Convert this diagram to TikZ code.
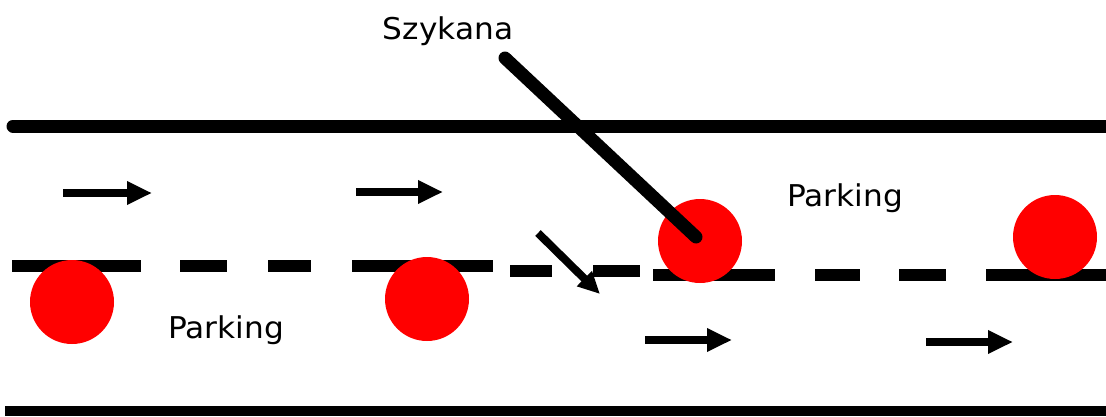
\documentclass[tikz,border=0pt]{standalone}
\usepackage{fontspec}
\setmainfont{DejaVu Sans}
\usetikzlibrary{arrows.meta}
\begin{document}
\begin{tikzpicture}[x=1pt,y=-1pt,
  road/.style={line width=12pt, line cap=butt},
  dashpiece/.style={line width=12pt, line cap=butt},
  car/.style={circle, fill=red, draw=none, minimum size=84pt, inner sep=0pt},
  flow/.style={line width=8pt, -{Triangle[length=25pt,width=22pt]}},
  lbl/.style={font=\fontsize{30}{32}\selectfont, inner sep=0pt, xscale=1.04}]
\useasboundingbox (0,0) rectangle (1106,416);
% road edges
\draw[road, line width=13pt, line cap=round] (13,126) -- (1106,126);
\draw[road, line width=10pt] (5,411) -- (1110,411);
% dashed centre line, left part
\foreach \a/\b in {12/141,180/227,268/311,352/493}
  \draw[dashpiece] (\a,266) -- (\b,266);
\foreach \a/\b in {510/552,593/640}
  \draw[dashpiece] (\a,271) -- (\b,271);
% dashed centre line, right part
\foreach \a/\b in {653/775,815/860,899/946,986/1106}
  \draw[dashpiece] (\a,275) -- (\b,275);
% parked cars
\node[car] (c1) at (72,302) {};
\node[car] (c2) at (427,299) {};
\node[car] (c3) at (700,241) {};
\node[car] (c4) at (1055,237) {};
% traffic arrows
\coordinate (a1s) at (63,193);  \coordinate (a1e) at (152,193);
\coordinate (a2s) at (356,192); \coordinate (a2e) at (443,192);
\coordinate (a3s) at (645,340); \coordinate (a3e) at (732,340);
\coordinate (a4s) at (926,342); \coordinate (a4e) at (1013,342);
\coordinate (a5s) at (538,233); \coordinate (a5e) at (600,294);
\draw[flow] (a1s) -- (a1e);
\draw[flow] (a2s) -- (a2e);
\draw[flow] (a3s) -- (a3e);
\draw[flow] (a4s) -- (a4e);
\draw[flow, -{Triangle[length=22pt,width=20pt]}] (a5s) -- (a5e);
% labels
\node[lbl] (szy) at (448,31) {Szykana};
\node[lbl] (p1) at (845,198) {Parking};
\node[lbl] (p2) at (226,330) {Parking};
% pointer line
\coordinate (ptr) at (505,58);
\draw[line width=13pt, line cap=round] (ptr) -- (696,237);
\end{tikzpicture}
\end{document}
